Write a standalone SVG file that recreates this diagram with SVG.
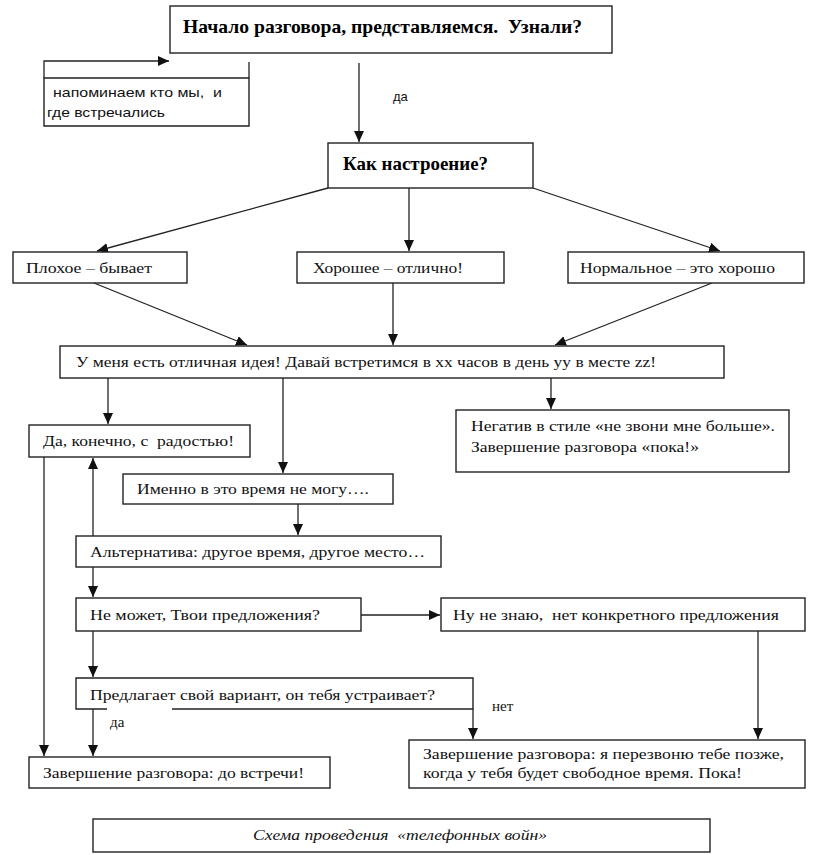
<svg xmlns="http://www.w3.org/2000/svg" width="817" height="855" viewBox="0 0 817 855" xml:space="preserve">
<style>
text{white-space:pre}
.box{fill:#fff;stroke:#222;stroke-width:1.4}
.ln{fill:none;stroke:#222;stroke-width:1.3}
.t{font-family:"Liberation Serif","Times New Roman",serif;font-size:15px;fill:#111}
.tb{font-family:"Liberation Serif","Times New Roman",serif;font-size:19px;fill:#000;font-weight:bold}
.s{font-family:"Liberation Sans",Arial,sans-serif;font-size:13px;fill:#111}
.c{font-family:"Liberation Serif","Times New Roman",serif;font-size:15px;font-style:italic;fill:#111}
</style>
<defs>
<marker id="ah" markerUnits="userSpaceOnUse" markerWidth="12" markerHeight="10" refX="11" refY="5" orient="auto">
<path d="M0,0 L11,5 L0,10 Z" fill="#111"/>
</marker>
</defs>
<rect width="817" height="855" fill="#fff"/>
<g id="connectors">
<path class="ln" d="M44,78 V61 H169" marker-end="url(#ah)"/>
<path class="ln" d="M249,62 V78"/>
<path class="ln" d="M359,63 V142" marker-end="url(#ah)"/>
<path class="ln" d="M328,188 L97,251" marker-end="url(#ah)"/>
<path class="ln" d="M409,188 V251" marker-end="url(#ah)"/>
<path class="ln" d="M533,188 L720,251" marker-end="url(#ah)"/>
<path class="ln" d="M94,283 L247,345" marker-end="url(#ah)"/>
<path class="ln" d="M393,283 V345" marker-end="url(#ah)"/>
<path class="ln" d="M712,283 L555,345" marker-end="url(#ah)"/>
<path class="ln" d="M108,378 V424" marker-end="url(#ah)"/>
<path class="ln" d="M283,378 V473" marker-end="url(#ah)"/>
<path class="ln" d="M551,378 V409" marker-end="url(#ah)"/>
<path class="ln" d="M93,536 V458" marker-end="url(#ah)"/>
<path class="ln" d="M298,504 V535" marker-end="url(#ah)"/>
<path class="ln" d="M93,567 V597" marker-end="url(#ah)"/>
<path class="ln" d="M361,615 H440" marker-end="url(#ah)"/>
<path class="ln" d="M93,631 V677" marker-end="url(#ah)"/>
<path class="ln" d="M758,631 V739" marker-end="url(#ah)"/>
<path class="ln" d="M44,457 V756" marker-end="url(#ah)"/>
<path class="ln" d="M93,709 V756" marker-end="url(#ah)"/>
<path class="ln" d="M473,709 V739" marker-end="url(#ah)"/>
</g>
<g id="n-start"><rect class="box" x="170" y="6" width="442" height="47"/><text class="tb" x="183" y="33" textLength="399" lengthAdjust="spacingAndGlyphs">Начало разговора, представляемся.  Узнали?</text></g>
<g id="n-remind"><path class="box" d="M44,78 H249 V126 H44 Z"/><text class="s" x="53" y="97" textLength="169" lengthAdjust="spacingAndGlyphs">напоминаем кто мы,  и</text><text class="s" x="47" y="117" textLength="118" lengthAdjust="spacingAndGlyphs">где встречались</text></g>
<text class="s" x="393" y="101">да</text>
<g id="n-mood"><rect class="box" x="328" y="143" width="205" height="45"/><text class="tb" x="343" y="170" textLength="145" lengthAdjust="spacingAndGlyphs">Как настроение?</text></g>
<g id="n-bad"><rect class="box" x="13" y="252" width="174" height="31"/><text class="t" x="26" y="273" textLength="126" lengthAdjust="spacingAndGlyphs">Плохое – бывает</text></g>
<g id="n-good"><rect class="box" x="297" y="252" width="207" height="31"/><text class="t" x="313" y="273" textLength="150" lengthAdjust="spacingAndGlyphs">Хорошее – отлично!</text></g>
<g id="n-normal"><rect class="box" x="568" y="252" width="236" height="31"/><text class="t" x="580" y="273" textLength="195" lengthAdjust="spacingAndGlyphs">Нормальное – это хорошо</text></g>
<g id="n-idea"><rect class="box" x="60" y="346" width="664" height="32"/><text class="t" x="76" y="367" textLength="580" lengthAdjust="spacingAndGlyphs">У меня есть отличная идея! Давай встретимся в хх часов в день уу в месте zz!</text></g>
<g id="n-yes"><rect class="box" x="29" y="425" width="221" height="32"/><text class="t" x="43" y="446" textLength="191" lengthAdjust="spacingAndGlyphs">Да, конечно, с  радостью!</text></g>
<g id="n-neg"><rect class="box" x="456" y="410" width="333" height="62"/><text class="t" x="471" y="431" textLength="304" lengthAdjust="spacingAndGlyphs">Негатив в стиле «не звони мне больше».</text><text class="t" x="471" y="452" textLength="228" lengthAdjust="spacingAndGlyphs">Завершение разговора «пока!»</text></g>
<g id="n-cant"><rect class="box" x="123" y="474" width="270" height="30"/><text class="t" x="137" y="494" textLength="232" lengthAdjust="spacingAndGlyphs">Именно в это время не могу….</text></g>
<g id="n-alt"><rect class="box" x="76" y="536" width="365" height="31"/><text class="t" x="90" y="557" textLength="335" lengthAdjust="spacingAndGlyphs">Альтернатива: другое время, другое место…</text></g>
<g id="n-offer"><rect class="box" x="76" y="598" width="285" height="33"/><text class="t" x="90" y="620" textLength="230" lengthAdjust="spacingAndGlyphs">Не может, Твои предложения?</text></g>
<g id="n-dunno"><rect class="box" x="441" y="598" width="364" height="33"/><text class="t" x="453" y="620" textLength="326" lengthAdjust="spacingAndGlyphs">Ну не знаю,  нет конкретного предложения</text></g>
<g id="n-propose"><path class="box" d="M107,709 H76 V678 H473 V709 H172"/><text class="t" x="90" y="700" textLength="345" lengthAdjust="spacingAndGlyphs">Предлагает свой вариант, он тебя устраивает?</text></g>
<text class="t" x="110" y="727">да</text>
<text class="t" x="492" y="711">нет</text>
<g id="n-endmeet"><rect class="box" x="29" y="757" width="301" height="31"/><text class="t" x="43" y="778" textLength="261" lengthAdjust="spacingAndGlyphs">Завершение разговора: до встречи!</text></g>
<g id="n-endlater"><rect class="box" x="409" y="740" width="396" height="48"/><text class="t" x="423" y="759" textLength="361" lengthAdjust="spacingAndGlyphs">Завершение разговора: я перезвоню тебе позже,</text><text class="t" x="423" y="778" textLength="319" lengthAdjust="spacingAndGlyphs">когда у тебя будет свободное время. Пока!</text></g>
<g id="caption"><rect class="box" x="93" y="819" width="617" height="33"/><text class="c" x="253" y="840" textLength="294" lengthAdjust="spacingAndGlyphs">Схема проведения  «телефонных войн»</text></g>
</svg>
